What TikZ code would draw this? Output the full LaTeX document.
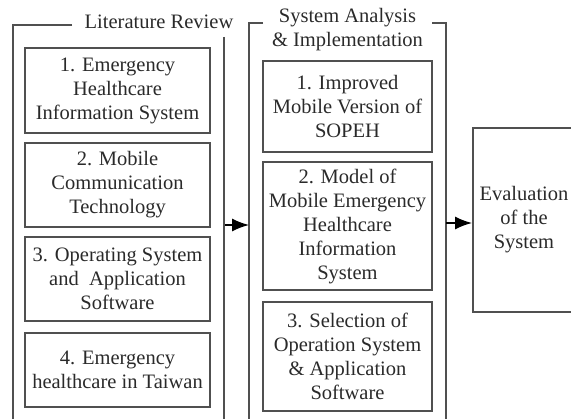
\documentclass[tikz,border=0pt]{standalone}
\usepackage{fontspec}
\setmainfont{Liberation Serif}
\usetikzlibrary{arrows.meta}
\definecolor{frameline}{HTML}{505050}
\definecolor{ink}{HTML}{2A2A2A}
\begin{document}
\begin{tikzpicture}[x=1pt,y=-1pt,
  every node/.style={text=ink,font=\fontsize{20.5}{24}\selectfont},
  item/.style={draw=frameline,line width=1.5pt,align=center,inner sep=0pt},
  frame/.style={draw=frameline,line width=1.5pt},
  flow/.style={draw=black,line width=1.4pt,-{Latex[length=17pt,width=13pt]}}]
\useasboundingbox (0,0) rectangle (571,419);
\clip (0,0) rectangle (571,419);

% Literature review column
\draw[frame] (72,25) -- (13,25) -- (13,430);
\draw[frame] (224,37) -- (224,430);
\node (litT) at (159,22) {Literature Review};
\node[item,minimum width=185pt,minimum height=85pt] (l1) at (117.5,90.5)
  {1. Emergency\\Healthcare\\Information System};
\node[item,minimum width=185pt,minimum height=84pt] (l2) at (117.5,185)
  {2. Mobile\\Communication\\Technology};
\node[item,minimum width=185pt,minimum height=84pt] (l3) at (117.5,279)
  {3. Operating System\\and~ Application\\Software};
\node[item,minimum width=185pt,minimum height=74pt] (l4) at (117.5,370)
  {4. Emergency\\healthcare in Taiwan};

% System analysis column
\draw[frame] (263,23) -- (249,23) -- (249,430);
\draw[frame] (432,23) -- (446,23) -- (446,430);
\node[align=center] (sysT) at (347.5,30) {System Analysis\\\& Implementation};
\node[item,minimum width=169pt,minimum height=91pt] (s1) at (347.5,106.5)
  {1. Improved\\Mobile Version of\\SOPEH};
\node[item,minimum width=169pt,minimum height=128pt] (s2) at (347.5,226)
  {2. Model of\\Mobile Emergency\\Healthcare\\Information\\System};
\node[item,minimum width=169pt,minimum height=109pt] (s3) at (347.5,356.5)
  {3. Selection of\\Operation System\\\& Application\\Software};

% Evaluation
\node[item,minimum width=102pt,minimum height=184pt] (ev) at (524,220)
  {Evaluation\\of the\\System};

% Connectors between columns
\coordinate (litR) at (225,225);
\coordinate (sysL) at (249,225);
\coordinate (sysR) at (446,223);
\coordinate (evL) at (472,223);
\draw[flow] (litR) -- (sysL);
\draw[flow] (sysR) -- (evL);
\end{tikzpicture}
\end{document}
